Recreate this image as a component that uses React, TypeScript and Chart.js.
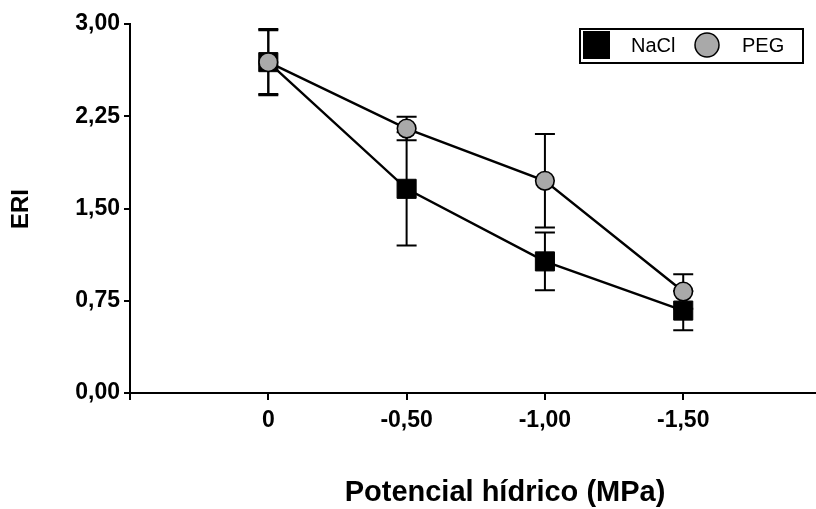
import React, { useEffect, useRef } from 'react';
import { Chart, registerables } from 'chart.js';

Chart.register(...registerables);

const categories = ['0', '-0,50', '-1,00', '-1,50'];
const categoryPositions = [0, 1, 2, 3];
const naclValues = [2.69, 1.66, 1.07, 0.67];
const naclErrors = [0.27, 0.46, 0.235, 0.16];
const pegValues = [2.69, 2.15, 1.725, 0.825];
const pegErrors = [0.26, 0.095, 0.38, 0.14];
const yTicks = [0, 0.75, 1.5, 2.25, 3];
const yTickLabels = ['0,00', '0,75', '1,50', '2,25', '3,00'];
const seriesNames = ['NaCl', 'PEG'];
const yTitle = 'ERI';
const xTitle = 'Potencial hídrico (MPa)';

const GRAY = '#a9a9a9';
const FONT = '"Liberation Sans", Arial, sans-serif';

const errorBarPlugin = {
  id: 'errorBars',
  beforeDatasetsDraw(chart: any) {
    const { ctx } = chart;
    const xs = chart.scales.x;
    const ys = chart.scales.y;
    ctx.save();
    ctx.strokeStyle = '#000';
    ctx.lineWidth = 2;
    chart.data.datasets.forEach((ds: any) => {
      ds.data.forEach((pt: any, i: number) => {
        const e = ds.errors[i];
        const x = xs.getPixelForValue(pt.x);
        const yTop = ys.getPixelForValue(pt.y + e);
        const yBot = ys.getPixelForValue(pt.y - e);
        ctx.beginPath();
        ctx.moveTo(x, yTop);
        ctx.lineTo(x, yBot);
        ctx.moveTo(x - 10, yTop);
        ctx.lineTo(x + 10, yTop);
        ctx.moveTo(x - 10, yBot);
        ctx.lineTo(x + 10, yBot);
        ctx.stroke();
      });
    });
    ctx.restore();
  },
};

const decorPlugin = {
  id: 'decor',
  afterDraw(chart: any) {
    const { ctx } = chart;
    ctx.save();
    ctx.fillStyle = '#000';
    ctx.font = `bold 29px ${FONT}`;
    ctx.textAlign = 'center';
    ctx.textBaseline = 'middle';
    ctx.fillText(xTitle, 505, 493);
    ctx.save();
    ctx.translate(21, 209);
    ctx.rotate(-Math.PI / 2);
    ctx.font = `bold 24px ${FONT}`;
    ctx.fillText(yTitle, 0, 0);
    ctx.restore();

    ctx.strokeStyle = '#000';
    ctx.lineWidth = 2;
    ctx.strokeRect(580, 29, 223, 34);
    ctx.fillStyle = '#000';
    ctx.fillRect(583, 31, 27, 28);
    ctx.font = `20px ${FONT}`;
    ctx.textAlign = 'left';
    ctx.textBaseline = 'middle';
    ctx.fillText(seriesNames[0], 631, 46);
    ctx.beginPath();
    ctx.arc(707, 45, 12, 0, Math.PI * 2);
    ctx.fillStyle = GRAY;
    ctx.fill();
    ctx.lineWidth = 1.5;
    ctx.stroke();
    ctx.fillStyle = '#000';
    ctx.fillText(seriesNames[1], 742, 46);
    ctx.restore();
  },
};

export default function App() {
  const ref = useRef<HTMLCanvasElement>(null);

  useEffect(() => {
    if (!ref.current) return;
    const chart = new Chart(ref.current, {
      type: 'line',
      data: {
        datasets: [
          {
            label: seriesNames[0],
            data: categoryPositions.map((x, i) => ({ x, y: naclValues[i] })),
            errors: naclErrors,
            borderColor: '#000',
            borderWidth: 2.4,
            pointStyle: 'rect',
            pointRadius: 13.5,
            pointBackgroundColor: '#000',
            pointBorderColor: '#000',
            pointBorderWidth: 1,
            order: 2,
            fill: false,
          } as any,
          {
            label: seriesNames[1],
            data: categoryPositions.map((x, i) => ({ x, y: pegValues[i] })),
            errors: pegErrors,
            borderColor: '#000',
            borderWidth: 2.4,
            pointStyle: 'circle',
            pointRadius: 9.3,
            pointBackgroundColor: GRAY,
            pointBorderColor: '#000',
            pointBorderWidth: 1.6,
            order: 1,
            fill: false,
          } as any,
        ],
      },
      options: {
        responsive: false,
        animation: false,
        events: [],
        layout: { autoPadding: false, padding: { top: 24, left: 0, right: 0, bottom: 0 } },
        plugins: {
          legend: { display: false },
          tooltip: { enabled: false },
        },
        scales: {
          x: {
            type: 'linear',
            min: -1,
            max: 3.96,
            afterBuildTicks: (s: any) => {
              s.ticks = [-1, ...categoryPositions].map((v) => ({ value: v }));
            },
            afterFit: (s: any) => {
              s.height = 116;
              s.paddingLeft = 0;
              s.paddingRight = 0;
            },
            ticks: {
              autoSkip: false,
              maxRotation: 0,
              padding: 7,
              color: '#000',
              font: { family: FONT, weight: 'bold', size: 23 },
              callback: (v: any) => (v >= 0 ? categories[v] : ''),
            },
            grid: {
              drawOnChartArea: false,
              drawTicks: true,
              tickLength: 7,
              color: '#000',
              lineWidth: 2,
            },
            border: { display: true, color: '#000', width: 2 },
          },
          y: {
            type: 'linear',
            min: 0,
            max: 3,
            afterBuildTicks: (s: any) => {
              s.ticks = yTicks.map((v) => ({ value: v }));
            },
            afterFit: (s: any) => {
              s.width = 130;
            },
            ticks: {
              padding: 4,
              color: '#000',
              font: { family: FONT, weight: 'bold', size: 23 },
              callback: (_v: any, i: number) => yTickLabels[i],
            },
            grid: {
              drawOnChartArea: false,
              drawTicks: true,
              tickLength: 6,
              color: '#000',
              lineWidth: 2,
            },
            border: { display: true, color: '#000', width: 2 },
          },
        },
      } as any,
      plugins: [errorBarPlugin, decorPlugin],
    });
    return () => chart.destroy();
  }, []);

  return (
    <div style={{ position: 'fixed', left: 0, top: 0, width: 816, height: 509, background: '#fff' }}>
      <canvas ref={ref} width={816} height={509} style={{ display: 'block' }} />
    </div>
  );
}
